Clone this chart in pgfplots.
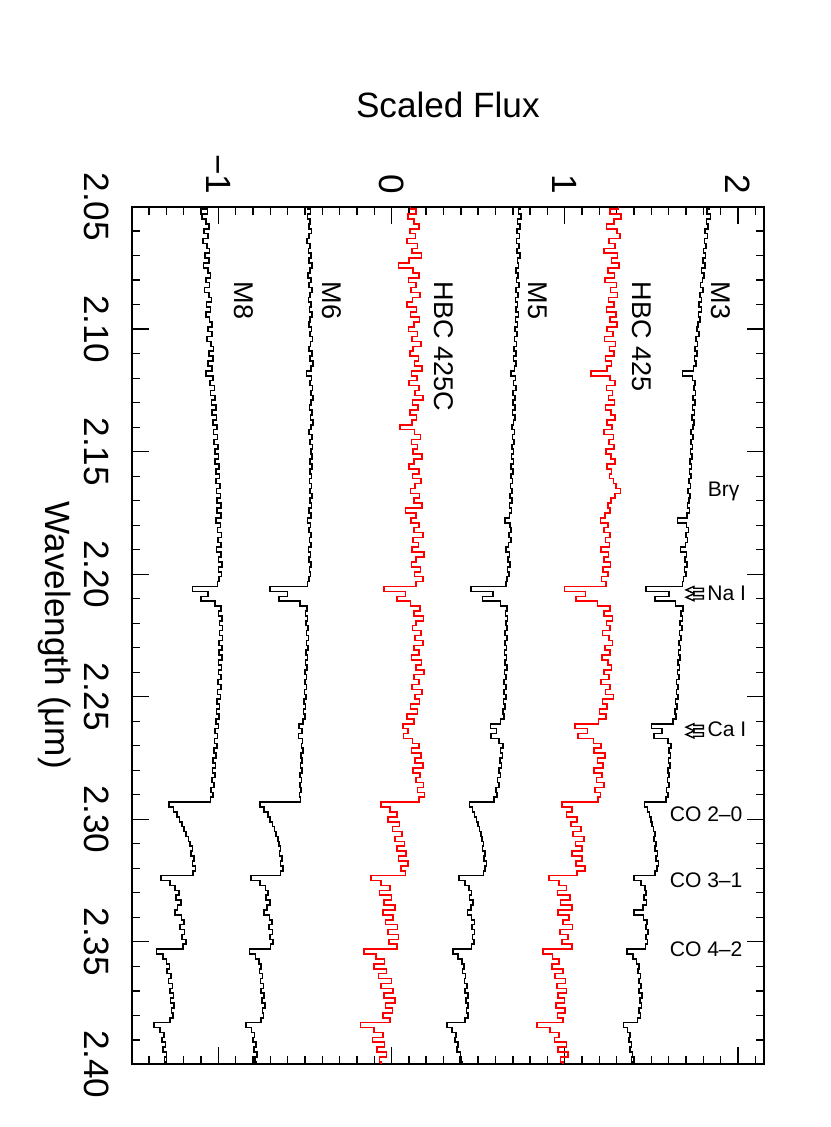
\documentclass[border=0pt]{standalone}
\usepackage{fontspec}
\setmainfont{Liberation Sans}
\usepackage{graphicx}
\usepackage{pgfplots}
\pgfplotsset{compat=1.18}
\usepackage{pgfplotstable}

% columns: wavelength (micron), then the six spectra, top to bottom
\pgfplotstableread{
lam m3 h425 m5 h425c m6 m8
2.050 1.835 1.310 0.745 0.110 -0.482 -1.088
2.052 1.822 1.262 0.732 0.142 -0.468 -1.062
2.054 1.840 1.325 0.748 0.095 -0.485 -1.095
2.056 1.818 1.284 0.728 0.128 -0.470 -1.070
2.058 1.826 1.240 0.740 0.160 -0.478 -1.055
2.060 1.810 1.302 0.725 0.105 -0.462 -1.082
2.062 1.824 1.318 0.738 0.138 -0.475 -1.060
2.064 1.806 1.255 0.722 0.090 -0.488 -1.090
2.066 1.815 1.290 0.735 0.150 -0.470 -1.065
2.068 1.800 1.228 0.724 0.118 -0.480 -1.050
2.070 1.812 1.305 0.740 0.172 -0.465 -1.078
2.072 1.797 1.270 0.726 0.100 -0.476 -1.055
2.074 1.808 1.312 0.733 0.040 -0.460 -1.085
2.076 1.790 1.248 0.718 0.125 -0.472 -1.060
2.078 1.802 1.286 0.731 0.158 -0.482 -1.045
2.080 1.795 1.232 0.722 0.098 -0.466 -1.072
2.082 1.783 1.298 0.736 0.140 -0.475 -1.050
2.084 1.798 1.265 0.720 0.112 -0.458 -1.080
2.086 1.781 1.305 0.729 0.165 -0.470 -1.055
2.088 1.790 1.252 0.715 0.122 -0.480 -1.040
2.090 1.776 1.283 0.728 0.090 -0.464 -1.068
2.092 1.788 1.240 0.719 0.145 -0.474 -1.045
2.094 1.772 1.296 0.732 0.110 -0.458 -1.072
2.096 1.780 1.262 0.716 0.162 -0.470 -1.050
2.098 1.768 1.300 0.726 0.128 -0.478 -1.035
2.100 1.762 1.245 0.712 0.098 -0.462 -1.060
2.102 1.775 1.278 0.724 0.150 -0.472 -1.038
2.104 1.758 1.230 0.710 0.118 -0.456 -1.065
2.106 1.766 1.292 0.722 0.170 -0.468 -1.042
2.108 1.752 1.258 0.708 0.125 -0.477 -1.028
2.110 1.762 1.285 0.720 0.105 -0.460 -1.055
2.112 1.748 1.236 0.705 0.155 -0.470 -1.032
2.114 1.757 1.270 0.718 0.132 -0.455 -1.060
2.116 1.742 1.245 0.710 0.175 -0.466 -1.036
2.118 1.680 1.150 0.690 0.115 -0.490 -1.070
2.120 1.738 1.262 0.716 0.148 -0.462 -1.030
2.122 1.752 1.290 0.704 0.102 -0.472 -1.048
2.124 1.745 1.240 0.717 0.160 -0.456 -1.022
2.126 1.755 1.275 0.702 0.135 -0.466 -1.045
2.128 1.741 1.252 0.714 0.180 -0.452 -1.018
2.130 1.750 1.288 0.700 0.120 -0.464 -1.040
2.132 1.738 1.235 0.712 0.152 -0.474 -1.015
2.134 1.748 1.268 0.699 0.108 -0.458 -1.036
2.136 1.734 1.290 0.711 0.145 -0.468 -1.010
2.138 1.745 1.244 0.703 0.118 -0.454 -1.032
2.140 1.739 1.272 0.696 0.050 -0.465 -1.008
2.142 1.728 1.226 0.709 0.132 -0.475 -1.028
2.144 1.741 1.280 0.698 0.168 -0.460 -1.005
2.146 1.730 1.255 0.708 0.115 -0.470 -1.025
2.148 1.738 1.284 0.694 0.150 -0.456 -1.002
2.150 1.726 1.238 0.705 0.125 -0.466 -1.020
2.152 1.735 1.266 0.692 0.175 -0.458 -0.998
2.154 1.724 1.290 0.703 0.130 -0.470 -1.018
2.156 1.731 1.245 0.690 0.102 -0.460 -0.995
2.158 1.720 1.270 0.701 0.158 -0.472 -1.015
2.160 1.729 1.258 0.689 0.122 -0.462 -0.992
2.162 1.718 1.282 0.699 0.170 -0.474 -1.012
2.164 1.725 1.296 0.686 0.135 -0.463 -0.990
2.166 1.712 1.322 0.695 0.110 -0.470 -1.010
2.168 1.722 1.290 0.684 0.162 -0.460 -0.988
2.170 1.716 1.268 0.694 0.128 -0.472 -1.008
2.172 1.708 1.248 0.682 0.175 -0.462 -0.986
2.174 1.719 1.262 0.692 0.080 -0.475 -1.006
2.176 1.705 1.232 0.680 0.140 -0.466 -0.985
2.178 1.650 1.205 0.655 0.112 -0.485 -1.015
2.180 1.702 1.250 0.683 0.158 -0.468 -0.988
2.182 1.713 1.226 0.690 0.130 -0.476 -1.004
2.184 1.700 1.262 0.678 0.182 -0.465 -0.982
2.186 1.709 1.235 0.688 0.125 -0.474 -1.002
2.188 1.697 1.258 0.676 0.155 -0.466 -0.984
2.190 1.668 1.210 0.662 0.118 -0.480 -1.010
2.192 1.702 1.252 0.680 0.188 -0.468 -0.986
2.194 1.694 1.228 0.672 0.140 -0.476 -1.000
2.196 1.705 1.265 0.684 0.115 -0.466 -0.980
2.198 1.690 1.220 0.670 0.168 -0.474 -0.998
2.200 1.699 1.248 0.679 0.132 -0.468 -0.982
2.202 1.686 1.212 0.668 0.180 -0.478 -0.996
2.204 1.680 1.238 0.660 0.140 -0.485 -1.005
2.206 1.470 0.998 0.460 -0.045 -0.700 -1.150
2.208 1.600 1.120 0.585 0.080 -0.600 -1.060
2.210 1.520 1.065 0.525 0.030 -0.650 -1.100
2.212 1.640 1.190 0.630 0.110 -0.530 -1.020
2.214 1.682 1.262 0.668 0.165 -0.488 -0.985
2.216 1.670 1.228 0.658 0.130 -0.496 -0.998
2.218 1.679 1.275 0.670 0.185 -0.484 -0.978
2.220 1.666 1.240 0.660 0.142 -0.494 -0.994
2.222 1.675 1.262 0.668 0.120 -0.482 -0.975
2.224 1.662 1.218 0.655 0.170 -0.492 -0.992
2.226 1.672 1.256 0.666 0.135 -0.480 -0.976
2.228 1.660 1.275 0.654 0.182 -0.490 -0.995
2.230 1.668 1.232 0.664 0.128 -0.482 -0.978
2.232 1.656 1.260 0.652 0.160 -0.494 -0.996
2.234 1.665 1.215 0.663 0.115 -0.486 -0.980
2.236 1.652 1.248 0.655 0.172 -0.496 -0.998
2.238 1.661 1.270 0.665 0.140 -0.488 -0.982
2.240 1.650 1.225 0.651 0.188 -0.498 -1.000
2.242 1.658 1.256 0.662 0.130 -0.490 -0.984
2.244 1.646 1.210 0.650 0.158 -0.500 -1.002
2.246 1.655 1.262 0.661 0.118 -0.492 -0.986
2.248 1.644 1.235 0.648 0.175 -0.502 -1.004
2.250 1.652 1.280 0.660 0.135 -0.494 -0.988
2.252 1.640 1.218 0.647 0.162 -0.505 -1.006
2.254 1.648 1.245 0.656 0.110 -0.497 -0.992
2.256 1.636 1.200 0.642 0.150 -0.508 -1.010
2.258 1.642 1.238 0.650 0.090 -0.500 -0.996
2.260 1.625 1.195 0.630 0.130 -0.512 -1.014
2.262 1.500 1.060 0.570 0.065 -0.535 -1.000
2.264 1.560 1.130 0.605 0.095 -0.518 -1.018
2.266 1.515 1.075 0.575 0.070 -0.538 -1.004
2.268 1.595 1.165 0.620 0.120 -0.515 -1.022
2.270 1.612 1.210 0.642 0.158 -0.520 -1.008
2.272 1.602 1.168 0.630 0.115 -0.512 -1.026
2.274 1.610 1.232 0.640 0.170 -0.524 -1.012
2.276 1.598 1.190 0.626 0.135 -0.516 -1.030
2.278 1.607 1.222 0.634 0.180 -0.526 -1.016
2.280 1.595 1.170 0.620 0.125 -0.518 -1.034
2.282 1.603 1.215 0.628 0.165 -0.528 -1.020
2.284 1.592 1.182 0.612 0.140 -0.520 -1.038
2.286 1.600 1.226 0.620 0.185 -0.530 -1.024
2.288 1.588 1.175 0.604 0.150 -0.522 -1.042
2.290 1.596 1.205 0.610 0.190 -0.532 -1.030
2.292 1.585 1.192 0.590 0.160 -0.525 -1.045
2.294 1.460 0.985 0.450 -0.060 -0.760 -1.285
2.296 1.478 1.040 0.468 -0.010 -0.735 -1.258
2.298 1.490 1.010 0.480 0.030 -0.712 -1.240
2.300 1.498 1.072 0.490 -0.020 -0.700 -1.225
2.302 1.505 1.035 0.500 0.045 -0.688 -1.210
2.304 1.512 1.095 0.508 0.005 -0.676 -1.198
2.306 1.520 1.048 0.515 0.060 -0.668 -1.185
2.308 1.516 1.110 0.522 0.020 -0.656 -1.172
2.310 1.528 1.062 0.530 0.075 -0.650 -1.165
2.312 1.522 1.100 0.525 0.030 -0.640 -1.150
2.314 1.535 1.040 0.540 0.085 -0.646 -1.158
2.316 1.528 1.098 0.534 0.040 -0.632 -1.140
2.318 1.540 1.065 0.548 0.095 -0.640 -1.150
2.320 1.532 1.118 0.540 0.055 -0.628 -1.132
2.322 1.520 1.070 0.530 0.080 -0.640 -1.145
2.324 1.400 0.910 0.390 -0.120 -0.810 -1.330
2.326 1.440 0.965 0.425 -0.060 -0.760 -1.280
2.328 1.462 1.010 0.448 -0.010 -0.728 -1.250
2.330 1.470 0.958 0.462 -0.070 -0.712 -1.228
2.332 1.458 1.030 0.450 0.000 -0.726 -1.245
2.334 1.472 0.975 0.470 -0.045 -0.700 -1.215
2.336 1.450 1.042 0.458 0.020 -0.718 -1.235
2.338 1.400 0.960 0.438 -0.050 -0.735 -1.250
2.340 1.455 1.025 0.462 0.010 -0.705 -1.212
2.342 1.475 0.990 0.478 -0.035 -0.690 -1.198
2.344 1.468 1.045 0.466 0.035 -0.708 -1.220
2.346 1.482 0.972 0.480 -0.020 -0.688 -1.195
2.348 1.470 1.020 0.468 0.040 -0.700 -1.210
2.350 1.478 0.985 0.475 -0.015 -0.685 -1.188
2.352 1.465 1.040 0.462 0.030 -0.698 -1.205
2.354 1.360 0.875 0.355 -0.160 -0.820 -1.356
2.356 1.395 0.930 0.385 -0.090 -0.785 -1.320
2.358 1.415 0.968 0.405 -0.040 -0.765 -1.298
2.360 1.430 0.925 0.418 -0.100 -0.752 -1.282
2.362 1.422 0.990 0.410 -0.030 -0.762 -1.295
2.364 1.436 0.945 0.428 -0.075 -0.745 -1.272
2.366 1.428 1.005 0.420 0.000 -0.756 -1.288
2.368 1.440 0.955 0.435 -0.060 -0.740 -1.265
2.370 1.430 1.010 0.425 0.010 -0.752 -1.280
2.372 1.445 0.962 0.440 -0.045 -0.736 -1.258
2.374 1.434 0.998 0.430 0.020 -0.748 -1.275
2.376 1.442 0.948 0.442 -0.035 -0.732 -1.255
2.378 1.430 1.002 0.432 0.005 -0.745 -1.270
2.380 1.438 0.958 0.440 -0.050 -0.738 -1.260
2.382 1.420 0.990 0.425 -0.010 -0.752 -1.278
2.384 1.340 0.840 0.320 -0.180 -0.840 -1.370
2.386 1.362 0.915 0.350 -0.100 -0.808 -1.335
2.388 1.378 0.965 0.372 -0.050 -0.790 -1.315
2.390 1.370 0.940 0.365 -0.110 -0.800 -1.325
2.392 1.385 1.010 0.385 -0.040 -0.782 -1.305
2.394 1.378 0.960 0.378 -0.085 -0.794 -1.318
2.396 1.392 1.020 0.398 -0.030 -0.776 -1.298
2.398 1.385 0.975 0.392 -0.070 -0.788 -1.310
2.400 1.400 0.990 0.410 -0.060 -0.780 -1.300
}\spec

\begin{document}
% the plot is drawn landscape and turned a quarter turn clockwise
\rotatebox{-90}{%
\begin{tikzpicture}
\useasboundingbox (0,0) rectangle (11.27,8.30);
\begin{axis}[
    at={(2.067cm,1.317cm)}, anchor=south west,
    scale only axis,
    width=8.576cm, height=6.323cm,
    xmin=2.05, xmax=2.40,
    ymin=-1.5, ymax=2.15,
    xtick={2.05,2.10,2.15,2.20,2.25,2.30,2.35,2.40},
    xticklabels={2.05,2.10,2.15,2.20,2.25,2.30,2.35,2.40},
    minor x tick num=4,
    ytick={-1,0,1,2},
    yticklabels={−1,0,1,2},
    minor ytick={-1.4,-1.3,-1.2,-1.1,-0.9,-0.8,-0.7,-0.6,-0.5,-0.4,-0.3,-0.2,-0.1,
                 0.1,0.2,0.3,0.4,0.5,0.6,0.7,0.8,0.9,1.1,1.2,1.3,1.4,1.5,1.6,1.7,1.8,1.9,2.1},
    tick align=inside,
    xtick pos=both, ytick pos=both,
    xticklabel pos=left, yticklabel pos=left,
    major tick length=1.7mm, minor tick length=0.85mm,
    every tick/.style={black, line width=0.4pt},
    axis line style={line width=0.5pt},
    tick label style={font=\fontsize{10}{12}\selectfont},
    xticklabel style={yshift=-1mm},
    xlabel={Wavelength (μm)},
    ylabel={Scaled Flux},
    label style={font=\fontsize{10}{12}\selectfont},
    every axis x label/.style={at={(axis description cs:0.5,-0.1218)}, anchor=center},
    every axis y label/.style={at={(axis description cs:-0.1189,0.5)}, anchor=center, rotate=90},
]
\addplot[black, line width=0.45pt, const plot mark mid] table[x=lam, y=m3] {\spec};
\addplot[red, line width=0.45pt, const plot mark mid] table[x=lam, y=h425] {\spec};
\addplot[black, line width=0.45pt, const plot mark mid] table[x=lam, y=m5] {\spec};
\addplot[red, line width=0.45pt, const plot mark mid] table[x=lam, y=h425c] {\spec};
\addplot[black, line width=0.45pt, const plot mark mid] table[x=lam, y=m6] {\spec};
\addplot[black, line width=0.45pt, const plot mark mid] table[x=lam, y=m8] {\spec};

% spectrum names
\begin{scope}[every node/.style={anchor=west, inner sep=0pt, font=\fontsize{7.7}{9}\selectfont}]
\node at (axis cs:2.0804,1.90) {M3};
\node at (axis cs:2.0804,1.444) {HBC 425};
\node at (axis cs:2.0804,0.845) {M5};
\node at (axis cs:2.0804,0.30) {HBC 425C};
\node at (axis cs:2.0804,-0.343) {M6};
\node at (axis cs:2.0804,-0.853) {M8};
\end{scope}

% line identifications (upright once the page is turned)
\begin{scope}[every node/.style={rotate=90, anchor=west, inner sep=0pt, font=\fontsize{6}{7}\selectfont}]
\node at (axis cs:2.1662,1.822) {Brγ};
\node at (axis cs:2.2078,1.819) {Na I};
\node at (axis cs:2.2631,1.820) {Ca I};
\node at (axis cs:2.2980,1.602) {CO 2–0};
\node at (axis cs:2.3250,1.602) {CO 3–1};
\node at (axis cs:2.3529,1.602) {CO 4–2};
\end{scope}

% hollow block arrows pointing at the Na I and Ca I lines
\begin{scope}[line width=0.4pt]
\draw (axis cs:2.2064,1.700) -- (axis cs:2.2050,1.745) -- (axis cs:2.2057,1.745) -- (axis cs:2.2057,1.800)
   -- (axis cs:2.2071,1.800) -- (axis cs:2.2071,1.745) -- (axis cs:2.2078,1.745) -- cycle;
\draw (axis cs:2.2094,1.700) -- (axis cs:2.2080,1.745) -- (axis cs:2.2087,1.745) -- (axis cs:2.2087,1.800)
   -- (axis cs:2.2101,1.800) -- (axis cs:2.2101,1.745) -- (axis cs:2.2108,1.745) -- cycle;
\draw (axis cs:2.2624,1.700) -- (axis cs:2.2610,1.745) -- (axis cs:2.2617,1.745) -- (axis cs:2.2617,1.800)
   -- (axis cs:2.2631,1.800) -- (axis cs:2.2631,1.745) -- (axis cs:2.2638,1.745) -- cycle;
\draw (axis cs:2.2654,1.700) -- (axis cs:2.2640,1.745) -- (axis cs:2.2647,1.745) -- (axis cs:2.2647,1.800)
   -- (axis cs:2.2661,1.800) -- (axis cs:2.2661,1.745) -- (axis cs:2.2668,1.745) -- cycle;
\end{scope}
\end{axis}
\end{tikzpicture}}
\end{document}
